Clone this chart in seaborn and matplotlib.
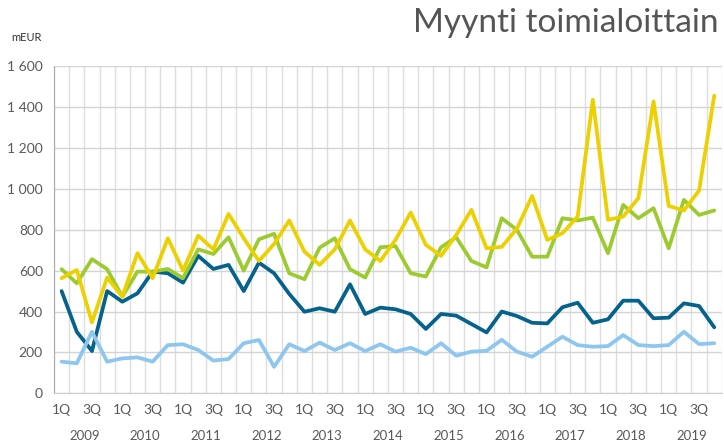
import numpy as np
import pandas as pd
import matplotlib
matplotlib.use('Agg')
import matplotlib.pyplot as plt
import matplotlib.transforms as mtransforms
from matplotlib.ticker import FuncFormatter, FixedLocator
import seaborn as sns

years = list(range(2009, 2020))
quarters = ['1Q', '2Q', '3Q', '4Q']

# quarterly sales per business line, mEUR (2009 1Q .. 2019 4Q)
sales_dark = [500, 301, 207, 500, 448, 489, 595, 587, 541, 672, 608, 628,
              500, 639, 587, 486, 399, 416, 399, 533, 388, 419, 411, 388,
              315, 388, 380, 339, 298, 400, 378, 345, 342, 421, 443, 345,
              362, 453, 453, 367, 370, 440, 427, 323]
sales_light = [155, 147, 301, 155, 171, 176, 155, 236, 240, 212, 160, 168,
               245, 261, 130, 240, 207, 248, 212, 245, 207, 240, 204, 223,
               192, 245, 184, 204, 208, 262, 204, 179, 228, 277, 236, 228,
               231, 285, 236, 231, 236, 301, 241, 245]
sales_green = [607, 538, 656, 607, 473, 595, 595, 608, 563, 704, 681, 763,
               600, 753, 780, 587, 558, 712, 758, 607, 566, 714, 720, 587,
               571, 714, 763, 647, 616, 856, 799, 668, 668, 856, 845, 859,
               685, 921, 856, 905, 709, 946, 872, 894]
sales_yellow = [563, 603, 347, 566, 473, 685, 563, 758, 600, 771, 704, 877,
                758, 647, 730, 845, 693, 628, 704, 845, 704, 647, 750, 884,
                726, 672, 774, 897, 709, 716, 805, 965, 750, 783, 864, 1435,
                848, 864, 954, 1427, 916, 894, 991, 1455]

series = {'dark': sales_dark, 'light': sales_light,
          'green': sales_green, 'yellow': sales_yellow}
colors = {'dark': '#04628C', 'light': '#8DC6EE',
          'green': '#9BCB2F', 'yellow': '#EDD000'}

n = len(sales_dark)
rows = []
for name, vals in series.items():
    for i, v in enumerate(vals):
        rows.append({'idx': i, 'value': v, 'series': name})
df = pd.DataFrame(rows)

sns.set_style('white')
plt.rcParams['font.family'] = ['Lato', 'DejaVu Sans']
grey = '#595959'

fig = plt.figure(figsize=(7.24, 4.45), dpi=100)
ax = fig.add_axes([0.0746, 0.116, 0.9224, 0.7357])

sns.lineplot(data=df, x='idx', y='value', hue='series', palette=colors,
             linewidth=2.7, legend=False, ax=ax, zorder=3)

ax.set_xlim(-0.5, n - 0.5)
ax.set_ylim(0, 1600)
ax.set_yticks(np.arange(0, 1601, 200))
ax.yaxis.set_major_formatter(FuncFormatter(lambda v, p: f'{int(v):,}'.replace(',', ' ')))

# vertical grid at quarter boundaries, labels on 1Q and 3Q
ax.xaxis.set_minor_locator(FixedLocator(np.arange(-0.5, n, 1)))
ax.set_xticks([i for i in range(n) if i % 4 in (0, 2)])
ax.set_xticklabels([quarters[i % 4] for i in range(n) if i % 4 in (0, 2)])
ax.grid(True, which='minor', axis='x', color='#DDDDDD', linewidth=1, zorder=0)
ax.grid(True, which='major', axis='y', color='#D4D4D4', linewidth=1, zorder=0)
ax.tick_params(axis='x', which='major', length=0, pad=8, labelsize=10, colors=grey)
ax.tick_params(axis='x', which='minor', length=4, color='#CCCCCC')
ax.tick_params(axis='y', length=4, color='#AAAAAA', labelsize=10, colors=grey, pad=4)
ax.set_xlabel('')
ax.set_ylabel('')

for s in ['top', 'right']:
    ax.spines[s].set_visible(False)
ax.spines['left'].set_color('#AAAAAA')
ax.spines['bottom'].set_color('#CCCCCC')

trans = mtransforms.blended_transform_factory(ax.transData, ax.transAxes)
for k, yr in enumerate(years):
    ax.text(4 * k + 1.5, -0.13, str(yr), transform=trans, ha='center', va='center',
            fontsize=9.5, color=grey)

fig.text(0.016, 0.915, 'mEUR', fontsize=8, color='#333333', ha='left', va='center')
fig.text(0.993, 0.948, 'Myynti toimialoittain', fontsize=24, color='#555555',
         ha='right', va='center')

fig.savefig('out.png', dpi=100)
